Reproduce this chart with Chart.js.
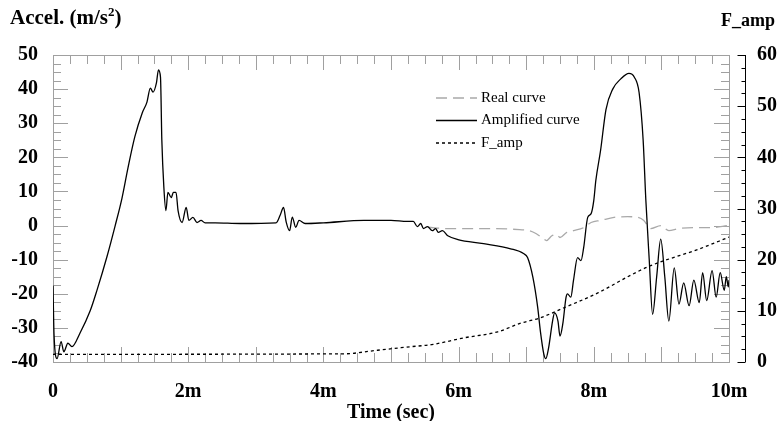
<!DOCTYPE html>
<html>
<head>
<meta charset="utf-8">
<script src="https://cdn.jsdelivr.net/npm/chart.js@4.4.1/dist/chart.umd.min.js"></script>
<style>
  body { margin: 0; background: #fff; }
  #wrap { position: relative; width: 778px; height: 421px; }
  .axis-title { position: absolute; font-family: "Liberation Serif", serif; font-weight: bold; color: #000; white-space: nowrap; }
  .axis-title sup { font-size: 13px; }
</style>
</head>
<body>
<div id="wrap">
  <canvas id="accelChart" width="778" height="421"></canvas>
  <div class="axis-title" style="left:10px; top:4px; font-size:21px;">Accel. (m/s<sup>2</sup>)</div>
  <div class="axis-title" style="left:721px; top:10px; font-size:18px;">F_amp</div>
</div>
<script>
// Amplified acceleration curve (time in m, accel m/s2)
const ampTime = [0, 0.015, 0.06, 0.12, 0.16, 0.22, 0.28, 0.4, 0.55, 0.65, 0.8, 0.92, 1.02, 1.11, 1.21, 1.32, 1.39, 1.44, 1.48, 1.53, 1.56, 1.59, 1.61, 1.64, 1.67, 1.7, 1.75, 1.78, 1.82, 1.85, 1.91, 1.97, 2.01, 2.07, 2.13, 2.19, 2.25, 2.4, 2.77, 3.3, 3.36, 3.41, 3.45, 3.5, 3.54, 3.59, 3.64, 3.73, 4.0, 4.6, 5.0, 5.24, 5.33, 5.39, 5.44, 5.48, 5.54, 5.61, 5.66, 5.7, 5.76, 5.84, 5.99, 6.37, 6.77, 6.96, 7.02, 7.1, 7.17, 7.21, 7.26, 7.29, 7.33, 7.39, 7.42, 7.47, 7.5, 7.54, 7.59, 7.61, 7.66, 7.7, 7.76, 7.81, 7.85, 7.91, 7.96, 8.0, 8.03, 8.1, 8.18, 8.28, 8.4, 8.52, 8.6, 8.67, 8.73, 8.77, 8.82, 8.87, 8.93, 8.99, 9.05, 9.11, 9.19, 9.26, 9.33, 9.41, 9.48, 9.56, 9.61, 9.67, 9.75, 9.81, 9.87, 9.93, 9.96, 9.99, 10];
const ampValues = [-17.6, -31.8, -39, -34, -37, -34.5, -35.5, -31.5, -25, -19, -9, 0, 8, 17, 26, 33, 36.2, 40.3, 39.1, 41.8, 45.6, 43.5, 25, 11.2, 4.4, 9.7, 8.2, 9.7, 9.7, 4.4, 0.9, 5.3, 1.5, 2.4, 0.9, 1.5, 0.8, 0.8, 0.6, 0.8, 3, 5.3, 1, -1.5, 2.5, -0.5, 1.5, 0.6, 0.8, 1.5, 1.5, 1.2, 1.2, -0.3, 0.6, -0.9, -0.3, -1.5, -0.9, -2, -1.5, -3, -4.1, -5.3, -6.8, -8.2, -9.4, -15.3, -24, -31, -37.6, -39, -36, -28, -25.6, -28, -32.4, -29, -21, -20, -21, -16, -9.4, -10.3, -6.5, 2.4, 3.5, 7.4, 13.2, 22, 34, 40, 43, 44.6, 43.5, 39, 25, 7.4, -10, -26, -15, -4, -15, -28, -12.4, -23, -16.8, -23.5, -16, -22.6, -13.8, -22, -13.2, -21, -13.8, -19, -15, -18, -16];

// Real curve (only visible where it departs from the amplified one)
const realTime = [5.55, 5.84, 6.5, 6.9, 7.05, 7.15, 7.25, 7.3, 7.38, 7.45, 7.5, 7.6, 7.7, 7.85, 7.96, 8.1, 8.3, 8.5, 8.65, 8.74, 8.84, 8.99, 9.11, 9.25, 9.54, 9.73, 9.99];
const realValues = [-0.5, -0.9, -0.9, -1.2, -1.5, -2.4, -3.8, -4.4, -3, -2.6, -3.5, -2, -1.5, -0.6, 0.9, 1.5, 2.4, 2.6, 2.4, 1.5, -0.9, 0, -1.5, -0.9, -0.6, -0.6, 0];

// Amplification factor (right axis)
const fampTime = [0, 4.3, 4.8, 5.3, 5.6, 6.07, 6.58, 6.92, 7.2, 7.56, 8.06, 8.55, 8.8, 9.04, 9.54, 10];
const fampValues = [1.5, 1.6, 2.3, 3.0, 3.4, 4.7, 5.9, 7.6, 8.6, 10.6, 13.5, 17, 18.6, 19.8, 22, 24.4];

const xTickLabels = ['0', '2m', '4m', '6m', '8m', '10m'];
const seriesLabels = ['Real curve', 'Amplified curve', 'F_amp'];

const toPoints = (xs, ys) => xs.map((t, i) => ({ x: t, y: ys[i] }));
const serif = '"Liberation Serif", "Times New Roman", serif';

// frame with inward ticks + separate right axis, and the inset legend
const frameTicks = {
  id: 'frameTicks',
  beforeDatasetsDraw(chart) {
    const { ctx, chartArea: a, scales } = chart;
    const x = scales.x, y = scales.y, y2 = scales.y2;
    ctx.save();
    ctx.strokeStyle = '#a0a0a0';
    ctx.lineWidth = 1;
    ctx.beginPath();
    for (let i = 0; i <= 40; i++) {
      const px = Math.round(x.getPixelForValue(i * 0.25)) + 0.5;
      const len = i % 4 === 0 ? 15 : 9;
      ctx.moveTo(px, a.bottom); ctx.lineTo(px, a.bottom - len);
      ctx.moveTo(px, a.top); ctx.lineTo(px, a.top + len);
    }
    for (let i = 0; i <= 36; i++) {
      const v = -40 + i * 2.5;
      const py = Math.round(y.getPixelForValue(v)) + 0.5;
      const len = i % 4 === 0 ? 15 : 8;
      ctx.moveTo(a.left, py); ctx.lineTo(a.left + len, py);
      ctx.moveTo(a.right, py); ctx.lineTo(a.right - len, py);
    }
    ctx.stroke();
    ctx.strokeRect(Math.round(a.left) + 0.5, Math.round(a.top) + 0.5, Math.round(a.width), Math.round(a.height));

    // right F_amp axis
    const ax = Math.round(a.right) + 16.5;
    ctx.strokeStyle = '#000';
    ctx.beginPath();
    ctx.moveTo(ax, y2.getPixelForValue(60));
    ctx.lineTo(ax, y2.getPixelForValue(0));
    for (let i = 0; i <= 24; i++) {
      const py = Math.round(y2.getPixelForValue(i * 2.5)) + 0.5;
      const len = i % 4 === 0 ? 8 : 4;
      ctx.moveTo(ax, py); ctx.lineTo(ax - len, py);
    }
    ctx.stroke();
    ctx.restore();
  },
  afterDatasetsDraw(chart) {
    const { ctx } = chart;
    const ds = chart.data.datasets;
    ctx.save();
    ctx.font = '15px ' + serif;
    ctx.textBaseline = 'middle';
    ctx.fillStyle = '#000';
    ds.forEach((d, row) => {
      const yy = 98 + row * 22.5;
      ctx.strokeStyle = d.borderColor;
      ctx.lineWidth = d.borderWidth;
      ctx.setLineDash(d.borderDash || []);
      ctx.beginPath();
      ctx.moveTo(436, yy); ctx.lineTo(477, yy);
      ctx.stroke();
      ctx.setLineDash([]);
      ctx.fillText(d.label, 481, yy);
    });
    ctx.restore();
  }
};

new Chart(document.getElementById('accelChart'), {
  type: 'line',
  data: {
    datasets: [
      { label: seriesLabels[0], data: toPoints(realTime, realValues), yAxisID: 'y',
        borderColor: '#a9a9a9', borderWidth: 1.3, borderDash: [11, 6], order: 2 },
      { label: seriesLabels[1], data: toPoints(ampTime, ampValues), yAxisID: 'y',
        borderColor: '#000', borderWidth: 1.3, order: 0 },
      { label: seriesLabels[2], data: toPoints(fampTime, fampValues), yAxisID: 'y2',
        borderColor: '#000', borderWidth: 1.3, borderDash: [3, 3], order: 1 }
    ]
  },
  options: {
    responsive: false,
    animation: false,
    elements: { point: { radius: 0 }, line: { cubicInterpolationMode: 'monotone' } },
    layout: { padding: { top: 55, left: 0, right: 0, bottom: 0 } },
    plugins: { legend: { display: false }, tooltip: { enabled: false } },
    scales: {
      x: {
        type: 'linear', min: 0, max: 10,
        grid: { display: false }, border: { display: false },
        ticks: {
          stepSize: 2, padding: 10, color: '#000',
          font: { family: serif, size: 20, weight: 'bold' },
          callback: v => xTickLabels[Math.round(v / 2)]
        },
        title: { display: true, text: 'Time (sec)', color: '#000', padding: { top: 0, bottom: -4 },
          font: { family: serif, size: 20, weight: 'bold' } },
        afterFit: s => { s.height = 59; }
      },
      y: {
        position: 'left', min: -40, max: 50,
        grid: { display: false }, border: { display: false },
        ticks: { stepSize: 10, padding: 7, color: '#000',
          font: { family: serif, size: 20, weight: 'bold' } },
        afterFit: s => { s.width = 53; }
      },
      y2: {
        position: 'right', min: 0, max: 60,
        grid: { display: false }, border: { display: false },
        ticks: { stepSize: 10, padding: 20, color: '#000',
          font: { family: serif, size: 20, weight: 'bold' } },
        afterFit: s => { s.width = 49; }
      }
    }
  },
  plugins: [frameTicks]
});
</script>
</body>
</html>
